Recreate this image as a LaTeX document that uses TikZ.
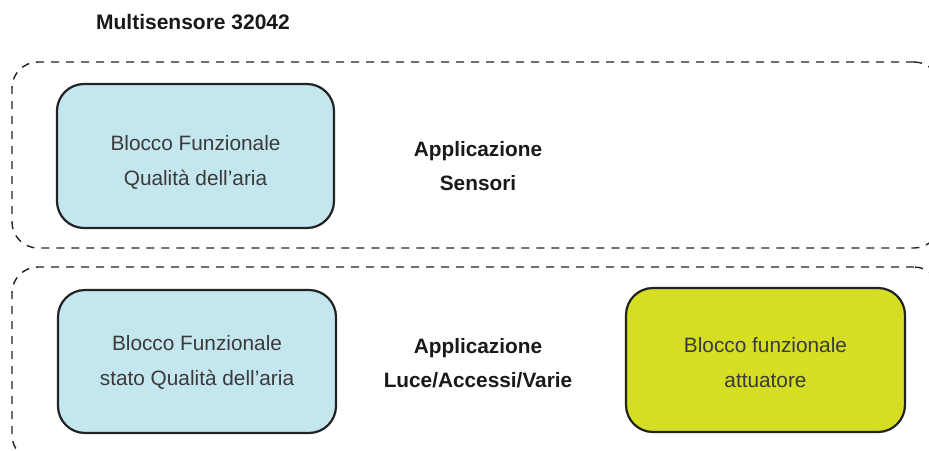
\documentclass[tikz,border=0pt]{standalone}
\usepackage{fontspec}
\setmainfont{Liberation Sans}
\definecolor{boxblue}{HTML}{C4E6EE}
\definecolor{boxyellow}{HTML}{D5DE23}
\definecolor{edge}{HTML}{222222}
\definecolor{txt}{HTML}{3A3A3A}
\newcommand{\apos}{\char39\relax}
\begin{document}
\begin{tikzpicture}[x=1pt,y=-1pt,
  block/.style={draw=edge, line width=2.2pt, rounded corners=27pt, inner sep=0pt},
  blocktext/.style={align=center, text=txt, inner sep=0pt, font=\fontsize{20.8}{35}\selectfont},
  group/.style={draw=edge, line width=1.4pt, dash pattern=on 8pt off 7pt, rounded corners=26pt, inner sep=0pt},
  applabel/.style={align=center, text=black!90, font=\fontsize{20.8}{34}\selectfont\bfseries}
]
\useasboundingbox (0,0) rectangle (929,450);
\clip (0,0) rectangle (929,450);
\node[text=black!90, font=\fontsize{21}{24}\selectfont\bfseries] (title) at (193,22) {Multisensore 32042};
\node[group, minimum width=928pt, minimum height=186pt] (grpA) at (476,155) {};
\node[group, minimum width=928pt, minimum height=194pt] (grpB) at (476,364) {};
\node[block, fill=boxblue, minimum width=277pt, minimum height=144pt] (bfqa) at (195.5,156) {};
\node[blocktext] (bfqaT) at ([yshift=-6pt]bfqa.center) {Blocco Funzionale\\Qualità dell\apos aria};
\node[block, fill=boxblue, minimum width=278pt, minimum height=143pt] (bfsqa) at (197,361.5) {};
\node[blocktext] (bfsqaT) at ([yshift=-1pt]bfsqa.center) {Blocco Funzionale\\stato Qualità dell\apos aria};
\node[block, fill=boxyellow, minimum width=279pt, minimum height=144pt] (bfatt) at (765.5,360) {};
\node[blocktext] (bfattT) at ([yshift=-3pt]bfatt.center) {Blocco funzionale\\attuatore};
\node[applabel] (appsens) at (478,166) {Applicazione\\Sensori};
\node[applabel] (applav) at (478,363) {Applicazione\\Luce/Accessi/Varie};
\end{tikzpicture}
\end{document}
